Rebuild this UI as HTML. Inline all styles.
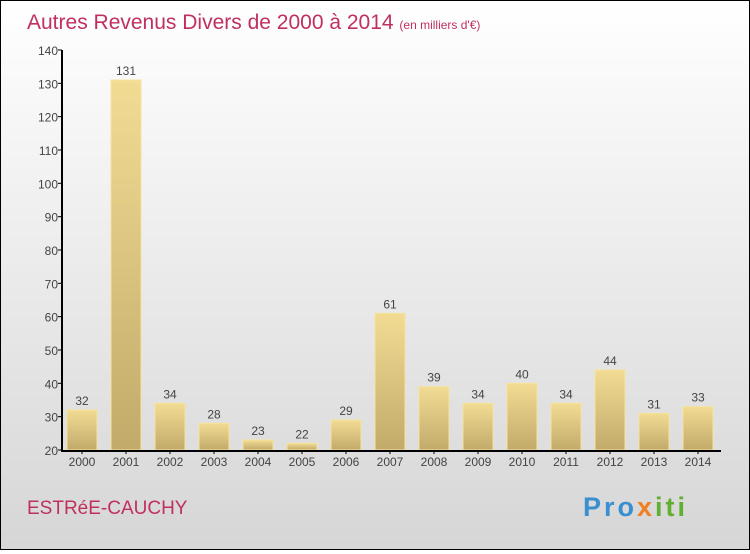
<!DOCTYPE html>
<html><head><meta charset="utf-8"><style>
body{margin:0}
#c{width:748px;height:548px;border:1px solid #000;background:linear-gradient(#fff,#d6d6d6);position:relative;font-family:"Liberation Sans",sans-serif}
</style></head><body>
<div id="c">
<svg id="s" width="748" height="548" xmlns="http://www.w3.org/2000/svg">
<defs><linearGradient id="g" x1="0" y1="0" x2="0" y2="1"><stop offset="0" stop-color="#f2dc94"/><stop offset="1" stop-color="#c2aa6a"/></linearGradient></defs>
<text x="26" y="28" font-size="21" fill="#c0305e">Autres Revenus Divers de 2000 à 2014 <tspan font-size="12">(en milliers d'€)</tspan></text>
<text x="26" y="513" font-size="19" fill="#c0305e">ESTRéE-CAUCHY</text>
<text x="582" y="515" font-size="27" font-weight="bold" letter-spacing="3" fill="#3a8fd0">Pro<tspan fill="#f08020">x</tspan><tspan fill="#60b030">iti</tspan></text>
<g id="plot"></g>
</svg></div>
<script>
const years=["2000","2001","2002","2003","2004","2005","2006","2007","2008","2009","2010","2011","2012","2013","2014"];
const values=[32,131,34,28,23,22,29,61,39,34,40,34,44,31,33];
const ticks=[20,30,40,50,60,70,80,90,100,110,120,130,140];
const NS="http://www.w3.org/2000/svg",p=document.getElementById('plot');
const y=v=>449-(v-20)*400/120, x=i=>81+i*44;
function el(t,a,txt){const e=document.createElementNS(NS,t);for(const k in a)e.setAttribute(k,a[k]);if(txt!=null)e.textContent=txt;p.appendChild(e);return e;}
ticks.forEach(t=>{
const l=el('line',{x1:57,x2:61,y1:y(t),y2:y(t),stroke:'#000'});


const tx=el('text',{x:57,y:y(t)+5,'text-anchor':'end','font-size':12,fill:'#444'},t);


});
values.forEach((v,i)=>{
const r=el('rect',{x:x(i)-15,y:y(v),width:30,height:y(20)-y(v),fill:'url(#g)',stroke:'#f5e39c','stroke-width':1});


const vt=el('text',{x:x(i),y:y(v)-5,'text-anchor':'middle','font-size':12,fill:'#444'},v);


const yt=el('text',{x:x(i),y:465,'text-anchor':'middle','font-size':12,fill:'#444'},years[i]);


const tk=el('line',{x1:x(i),x2:x(i),y1:449,y2:453,stroke:'#000'});


});
const ya=el('line',{x1:61,x2:61,y1:y(140),y2:450,stroke:'#000','stroke-width':2});


const xa=el('line',{x1:60,x2:720,y1:450,y2:450,stroke:'#000','stroke-width':2});


</script>
</body></html>
